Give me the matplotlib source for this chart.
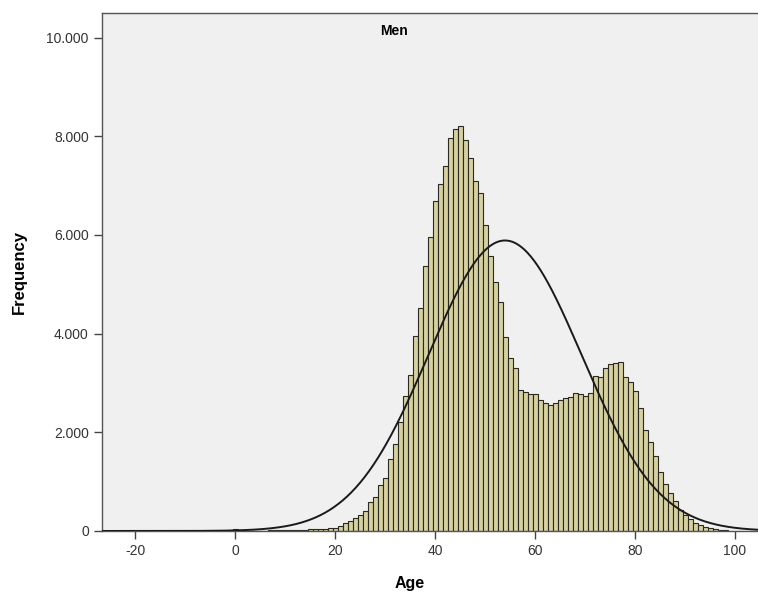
import numpy as np
import matplotlib
matplotlib.use("Agg")
import matplotlib.pyplot as plt

plt.rcParams['font.family'] = ['Liberation Sans', 'DejaVu Sans']

# histogram of age (1-year bins, centred on whole years)
ages = list(range(0, 99))
counts = [
    40, 10, 5, 5, 5, 5, 5, 10, 10, 10,                          # 0-9
    15, 15, 15, 20, 25, 30, 30, 35, 45, 55,                     # 10-19
    70, 100, 160, 210, 260, 325, 405, 595, 680, 930,            # 20-29
    1080, 1460, 1755, 2215, 2740, 3160, 3960, 4510, 5375, 5965,  # 30-39
    6690, 7030, 7400, 7960, 8145, 8205, 7925, 7565, 7090, 6855,  # 40-49
    6200, 5580, 5040, 4635, 3925, 3510, 3310, 2855, 2810, 2775,  # 50-59
    2775, 2655, 2600, 2555, 2600, 2655, 2690, 2710, 2800, 2775,  # 60-69
    2735, 2800, 3140, 3115, 3295, 3375, 3410, 3430, 3125, 3025,  # 70-79
    2835, 2500, 2045, 1810, 1520, 1200, 950, 765, 610, 430,     # 80-89
    320, 235, 165, 120, 85, 60, 40, 20, 10,                     # 90-98
]

# fitted normal curve
curve_mean = 54.0
curve_sd = 15.3

x_ticks = [-20, 0, 20, 40, 60, 80, 100]
y_ticks = [0, 2000, 4000, 6000, 8000, 10000]
y_labels = ["0", "2.000", "4.000", "6.000", "8.000", "10.000"]

fig = plt.figure(figsize=(7.58, 5.93), dpi=100)
ax = fig.add_axes([0.1346, 0.1046, 0.8654, 0.8735])
ax.set_facecolor("#f0f0f0")

ax.bar(ages, counts, width=1.0, align="center",
       color="#d6d19f", edgecolor="#2a2a24", linewidth=0.8, zorder=2)

n_total = sum(counts)
xs = np.linspace(-27, 105, 600)
pdf = np.exp(-0.5 * ((xs - curve_mean) / curve_sd) ** 2) / (curve_sd * np.sqrt(2 * np.pi))
ax.plot(xs, n_total * pdf, color="#1a1a1a", lw=1.4, zorder=3)

ax.set_xlim(-26.6, 104.6)
ax.set_ylim(0, 10500)
ax.set_xticks(x_ticks)
ax.set_xticklabels([str(t) for t in x_ticks])
ax.set_yticks(y_ticks)
ax.set_yticklabels(y_labels)
ax.tick_params(axis="both", direction="out", length=6, width=1.0,
               color="#444444", labelsize=10, labelcolor="#333333")

for side in ["left", "top", "bottom"]:
    ax.spines[side].set_color("#555555")
    ax.spines[side].set_linewidth(1.0)
ax.spines["right"].set_visible(False)

ax.set_xlabel("Age", fontsize=11.5, fontweight="bold")
ax.xaxis.set_label_coords(0.4695, -0.086)
ax.set_ylabel("Frequency", fontsize=12, fontweight="bold", labelpad=14)
ax.text(0.445, 0.965, "Men", transform=ax.transAxes, ha="center", va="center",
        fontsize=10, fontweight="bold")

fig.savefig("out.png", dpi=100, facecolor="white")
